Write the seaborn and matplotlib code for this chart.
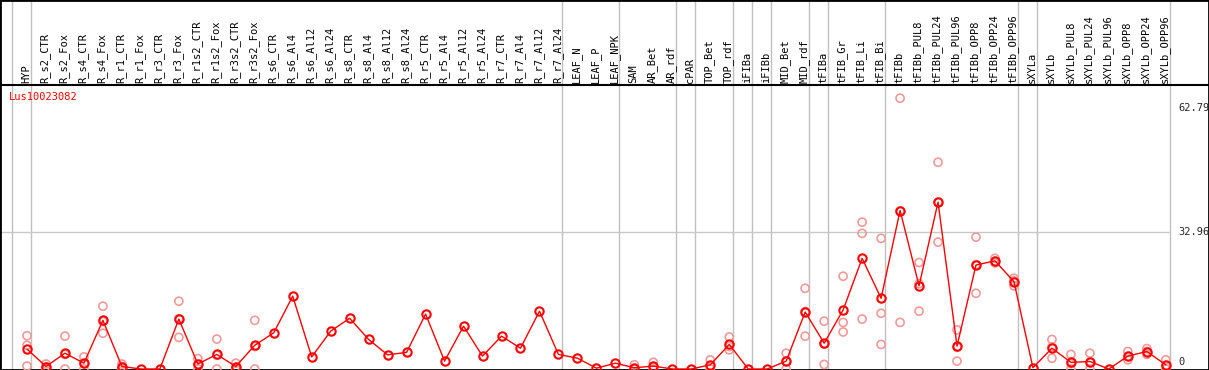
import matplotlib
matplotlib.use("Agg")
import matplotlib.pyplot as plt
import pandas as pd
import seaborn as sns

sns.set_style("white")
plt.rcParams['font.family'] = ['DejaVu Sans Mono', 'DejaVu Sans']

gene = "Lus10023082"

samples = ['HYP', 'R_s2_CTR', 'R_s2_Fox', 'R_s4_CTR', 'R_s4_Fox', 'R_r1_CTR', 'R_r1_Fox',
           'R_r3_CTR', 'R_r3_Fox', 'R_r1s2_CTR', 'R_r1s2_Fox', 'R_r3s2_CTR', 'R_r3s2_Fox',
           'R_s6_CTR', 'R_s6_Al4', 'R_s6_Al12', 'R_s6_Al24', 'R_s8_CTR', 'R_s8_Al4',
           'R_s8_Al12', 'R_s8_Al24', 'R_r5_CTR', 'R_r5_Al4', 'R_r5_Al12', 'R_r5_Al24',
           'R_r7_CTR', 'R_r7_Al4', 'R_r7_Al12', 'R_r7_Al24', 'LEAF_N', 'LEAF_P', 'LEAF_NPK',
           'SAM', 'AR_Bet', 'AR_rdf', 'cPAR', 'TOP_Bet', 'TOP_rdf', 'iFIBa', 'iFIBb',
           'MID_Bet', 'MID_rdf', 'tFIBa', 'tFIB_Gr', 'tFIB_Li', 'tFIB_Bi', 'tFIBb',
           'tFIBb_PUL8', 'tFIBb_PUL24', 'tFIBb_PUL96', 'tFIBb_OPP8', 'tFIBb_OPP24',
           'tFIBb_OPP96', 'sXYLa', 'sXYLb', 'sXYLb_PUL8', 'sXYLb_PUL24', 'sXYLb_PUL96',
           'sXYLb_OPP8', 'sXYLb_OPP24', 'sXYLb_OPP96']

means = [4.8, 0.6, 3.8, 1.4, 11.7, 0.6, 0.0, 0.0, 12.0, 1.2, 3.5, 0.6, 5.7,
         8.7, 17.5, 2.9, 9.1, 12.2, 7.1, 3.4, 4.0, 13.2, 1.9, 10.3, 3.1,
         7.9, 5.0, 13.9, 3.5, 2.6, 0.2, 1.4,
         0.3, 0.7, 0.0, 0.0, 1.0, 5.9, 0.0, 0.0,
         1.9, 13.7, 6.2, 14.2, 26.6, 17.0, 38.1,
         20.0, 40.1, 5.5, 25.0, 26.0, 21.0,
         0.3, 5.0, 1.6, 1.8, 0.0, 3.1, 4.2, 1.0]

replicates = [[8.0, 5.7, 0.7], [1.2, 0.5, 0.1], [7.9, 3.5, 0.0], [2.9, 1.3, 0.0],
              [15.1, 11.4, 8.6], [1.2, 0.6, 0.0], [], [], [16.3, 12.1, 7.6],
              [2.5, 1.1, 0.0], [7.2, 3.3, 0.0], [1.4, 0.4, 0.0], [11.7, 5.4, 0.0],
              [], [], [], [], [], [], [], [], [], [], [], [], [], [], [], [], [], [], [],
              [1.0, 0.0], [1.6, 0.5, 0.0], [], [], [2.2, 0.8, 0.0], [7.7, 5.4, 4.6], [], [],
              [3.8, 1.9, 0.0], [19.4, 13.8, 7.9], [11.5, 6.0, 1.1], [22.3, 11.2, 8.9],
              [35.3, 32.6, 12.0], [31.4, 13.4, 5.9], [65.1, 38.0, 11.2],
              [25.6, 20.5, 13.9], [49.7, 40.1, 30.5], [9.4, 5.2, 1.9],
              [31.7, 25.1, 18.2], [26.6, 25.9, 25.5], [21.8, 21.2, 20.0],
              [], [7.1, 5.3, 2.6], [3.5, 1.3, 0.0], [3.8, 1.6, 0.0], [],
              [4.2, 3.0, 2.2], [4.9, 4.2, 3.5], [2.2, 0.8, 0.0]]

# group separators (drawn just after these sample indices)
separators = [-1, 0, 28, 31, 34, 35, 37, 38, 39, 41, 42, 45, 52, 53, 60]
ytick_values = [62.79, 32.96, 0]

df_mean = pd.DataFrame({'pos': range(len(samples)), 'sample': samples, 'value': means})
rows = []
for i, reps in enumerate(replicates):
    for v in reps:
        rows.append({'pos': i, 'value': v})
df_rep = pd.DataFrame(rows)

fig = plt.figure(figsize=(12.09, 3.70), dpi=100)
ax = fig.add_axes([0, 0, 1, 1])

# pixel -> data mapping
px_per_unit = 4.16
y0_px = 369
x0_px, x_step = 27, 18.98
ax.set_xlim(-x0_px / x_step, (1209 - x0_px) / x_step)
ax.set_ylim((y0_px - 370) / px_per_unit, y0_px / px_per_unit)


def px_y(p):
    return (y0_px - p) / px_per_unit


def px_x(p):
    return (p - x0_px) / x_step


for s in separators:
    ax.axvline(s + 0.2, color='#c0c0c0', lw=1, zorder=1)
ax.plot([ax.get_xlim()[0], px_x(1170)], [ytick_values[1]] * 2, color='#c8c8c8', lw=1, zorder=1)
ax.axhline(px_y(85), color='black', lw=1.5, zorder=2)

sns.scatterplot(data=df_rep, x='pos', y='value', ax=ax, marker='o', s=34,
                facecolor='none', edgecolor='#f09a9a', linewidth=1.2, zorder=3, legend=False)
sns.lineplot(data=df_mean, x='pos', y='value', ax=ax, color='red', lw=1,
             marker='o', markersize=6, markerfacecolor='none', markeredgecolor='red',
             markeredgewidth=1.5, zorder=4, legend=False)

for i, name in enumerate(samples):
    ax.text(i - 0.05, px_y(83), name, rotation=90, ha='center', va='bottom',
            fontsize=7.5, color='black')

ax.text(px_x(9), px_y(97), gene, color='red', fontsize=7.5, ha='left', va='center')
ax.text(px_x(1178), px_y(108), f"{ytick_values[0]:.2f}", fontsize=7.5, ha='left', va='center')
ax.text(px_x(1178), px_y(232), f"{ytick_values[1]:.2f}", fontsize=7.5, ha='left', va='center')
ax.text(px_x(1178), px_y(362), f"{ytick_values[2]}", fontsize=7.5, ha='left', va='center')

ax.set_xticks([])
ax.set_yticks([])
ax.set_xlabel('')
ax.set_ylabel('')
for sp in ax.spines.values():
    sp.set_visible(True)
    sp.set_color('black')
    sp.set_linewidth(2)

fig.savefig('out.png', dpi=100)
